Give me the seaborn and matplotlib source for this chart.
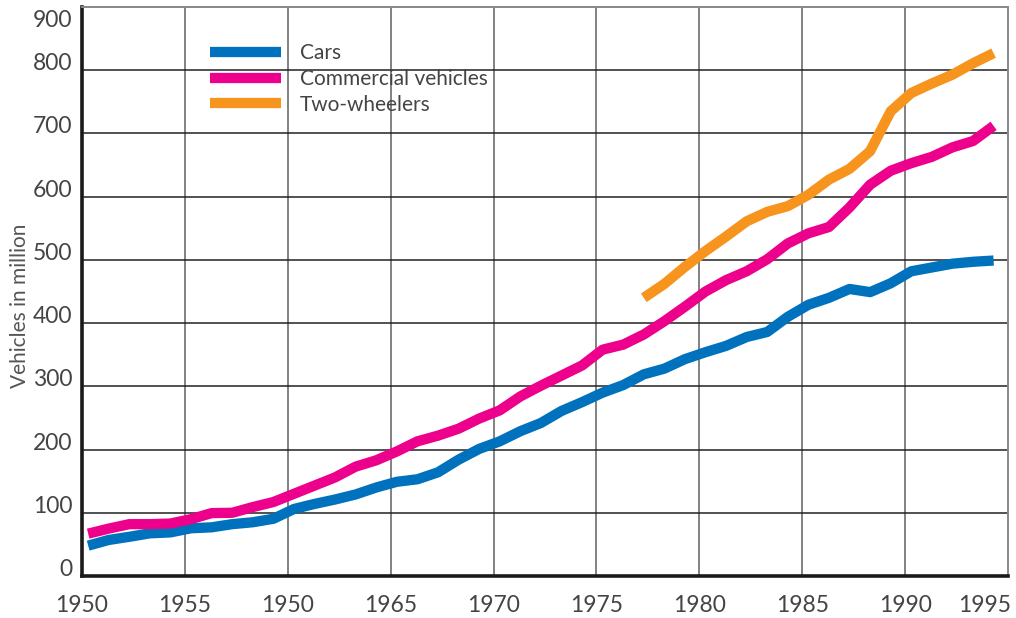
import numpy as np
import pandas as pd
import matplotlib.pyplot as plt
import matplotlib.transforms as mtransforms
from matplotlib.lines import Line2D
import seaborn as sns

sns.set_style("white")
plt.rcParams['font.family'] = ['Lato', 'DejaVu Sans']

# Vehicles in million
years = list(range(1950, 1995))
cars = [48, 57, 62, 67.5, 69, 75.5, 77, 82, 85, 90.5,
        106, 114, 121, 129, 140, 149, 153, 164, 184, 201,
        213, 229, 242, 261, 275, 290, 302, 319, 328, 343,
        354, 364, 378, 386, 410, 429, 440, 454, 449, 463,
        482, 488, 494, 497, 499]
commercial = [67, 75, 82, 82, 83, 90, 99.5, 100, 109, 117,
              130, 143, 156, 173, 183, 197, 213, 222, 233, 249,
              262, 284, 301, 317, 333, 358, 366, 382, 403, 426,
              450, 468, 482, 501, 526, 542, 552, 583, 619, 641,
              653, 663, 678, 688, 712]
years_two = list(range(1977, 1995))
two_wheelers = [440, 462, 489, 514, 537, 561, 576, 585, 603, 627,
                644, 672, 735, 764, 779, 793, 811, 827]

series_names = ["Cars", "Commercial vehicles", "Two-wheelers"]
colors = ["#0071BC", "#EC008C", "#F7941E"]
xtick_vals = [1950, 1955, 1960, 1965, 1970, 1975, 1980, 1985, 1990, 1995]
# the original prints "1950" under the 1960 gridline
xtick_labels = ["1950", "1955", "1950", "1965", "1970", "1975", "1980", "1985", "1990", "1995"]
ytick_vals = [0, 100, 200, 300, 400, 500, 600, 700, 800, 900]

df = pd.concat([
    pd.DataFrame({"year": years, "value": cars, "series": series_names[0]}),
    pd.DataFrame({"year": years, "value": commercial, "series": series_names[1]}),
    pd.DataFrame({"year": years_two, "value": two_wheelers, "series": series_names[2]}),
])
# lines sit a little right of the year grid in the source
df["x"] = df["year"] + 0.3

fig = plt.figure(figsize=(10.16, 6.18), dpi=100)
ax = fig.add_axes([82 / 1016, 1 - 576 / 618, 926 / 1016, 569 / 618])

sns.lineplot(data=df, x="x", y="value", hue="series", hue_order=series_names,
             palette=colors, linewidth=7.4, legend=False, ax=ax,
             solid_capstyle="butt", zorder=3)

ax.set_xlim(1950, 1995)
ax.set_ylim(0, 900)
ax.set_xticks(xtick_vals)
ax.set_xticklabels(xtick_labels)
ax.set_yticks(ytick_vals)
ax.set_xlabel("")
ax.set_ylabel("Vehicles in million", fontsize=15, color="#555555")
ax.yaxis.set_label_coords(-0.056, 0.475)

ax.tick_params(axis="both", length=0, labelsize=16.5, labelcolor="#444444")
ax.tick_params(axis="x", pad=14)
ax.tick_params(axis="y", pad=7)
for lab in ax.get_yticklabels():
    lab.set_verticalalignment("baseline")

# top value label hangs below the border, last year label sits left of it
top = ax.get_yticklabels()[-1]
top.set_transform(top.get_transform() +
                  mtransforms.ScaledTranslation(0, -0.2, fig.dpi_scale_trans))
last = ax.get_xticklabels()[-1]
last.set_transform(last.get_transform() +
                   mtransforms.ScaledTranslation(-0.23, 0, fig.dpi_scale_trans))

ax.grid(False)
for v in xtick_vals[1:-1]:
    ax.axvline(v, color="#777777", lw=1.3, zorder=1)
for v in ytick_vals[1:-1]:
    ax.axhline(v, color="#222222", lw=1.1, zorder=1)

for side in ["left", "bottom"]:
    ax.spines[side].set_color("#1a1a1a")
    ax.spines[side].set_linewidth(2.6)
for side in ["top", "right"]:
    ax.spines[side].set_color("#888888")
    ax.spines[side].set_linewidth(1.4)

handles = [Line2D([], [], color=c, lw=7.4, solid_capstyle="butt") for c in colors]
leg = ax.legend(handles, series_names, loc="upper left",
                bbox_to_anchor=(128 / 926, 1 - 36 / 569), frameon=False,
                fontsize=15, handlelength=3.4, handletextpad=0.9,
                labelspacing=0.28, borderpad=0, borderaxespad=0)
for t in leg.get_texts():
    t.set_color("#444444")

fig.savefig("out.png", dpi=100)
